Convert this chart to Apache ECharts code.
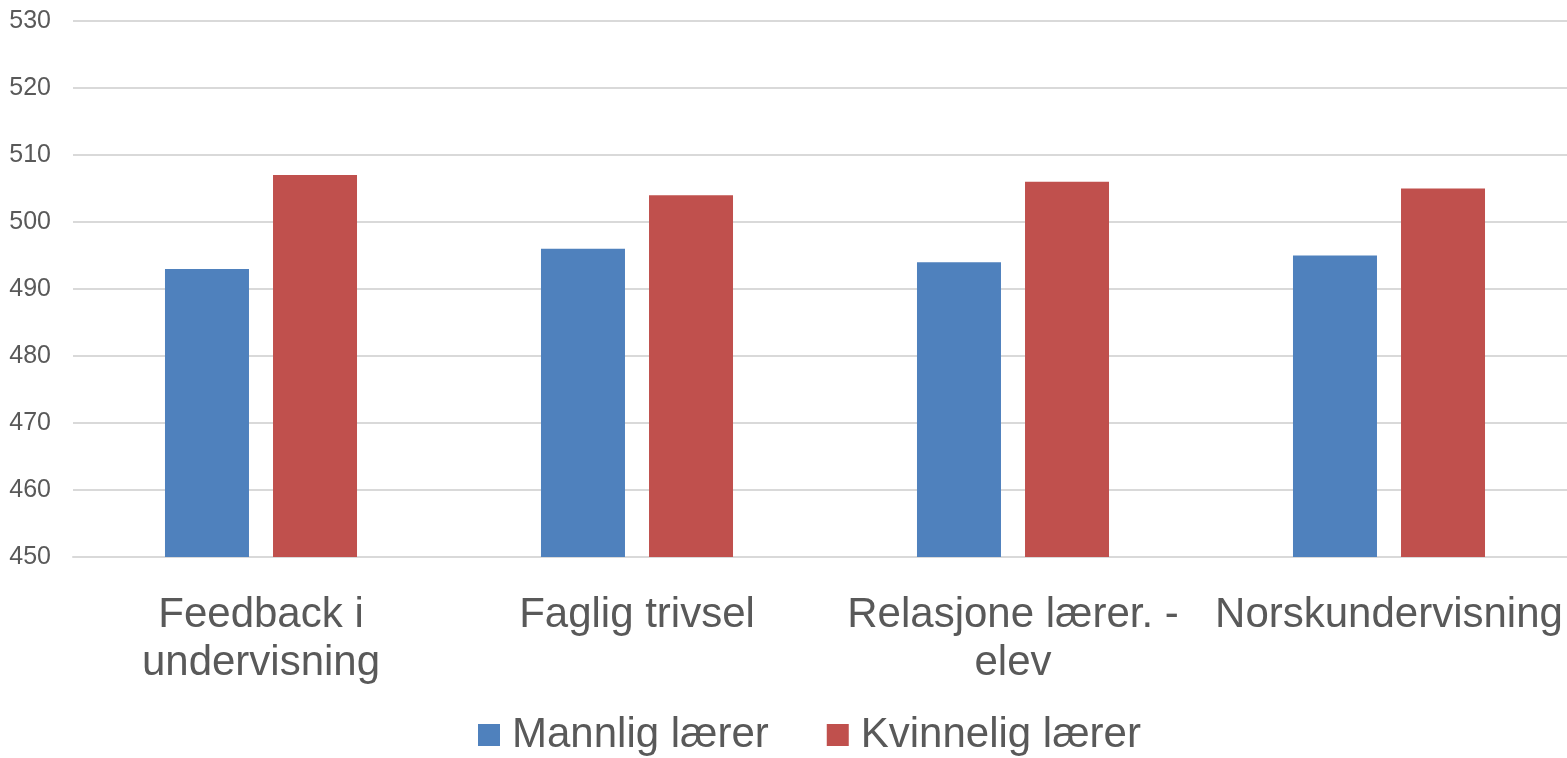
<!DOCTYPE html>
<html>
<head>
<meta charset="utf-8">
<script src="https://cdn.jsdelivr.net/npm/echarts@6/dist/echarts.min.js"></script>
<style>html,body{margin:0;padding:0;background:#fff;overflow:hidden;width:1567px;height:758px;}#c{width:1577px;height:758px;}</style>
</head>
<body>
<div id="c"></div>
<script>
var categories = ['Feedback i\nundervisning', 'Faglig trivsel', 'Relasjone lærer. -\nelev', 'Norskundervisning'];
var seriesNames = ['Mannlig lærer', 'Kvinnelig lærer'];
var mannlig = [493, 496, 494, 495];
var kvinnelig = [507, 504, 506, 505];
var yMin = 450, yMax = 530, yStep = 10;

var chart = echarts.init(document.getElementById('c'));
chart.setOption({
  animation: false,
  backgroundColor: '#fff',
  textStyle: { fontFamily: 'Liberation Sans, Arial, sans-serif' },
  grid: { left: 73, right: 0, top: 21, bottom: 201, containLabel: false },
  legend: {
    data: seriesNames,
    left: 478, top: 714,
    padding: 0,
    itemWidth: 22, itemHeight: 22, itemGap: 58,
    icon: 'rect',
    textStyle: { fontSize: 42, color: '#595959', fontFamily: 'Liberation Sans, Arial, sans-serif', padding: [0, 0, 0, 7] }
  },
  xAxis: {
    type: 'category',
    data: categories,
    axisLine: { show: true, lineStyle: { color: '#d9d9d9', width: 2 } },
    axisTick: { show: false },
    axisLabel: { fontSize: 42, color: '#595959', margin: 34, lineHeight: 48, interval: 0, fontFamily: 'Liberation Sans, Arial, sans-serif' }
  },
  yAxis: {
    type: 'value',
    min: yMin, max: yMax, interval: yStep,
    axisLine: { show: false },
    axisTick: { show: false },
    splitLine: { lineStyle: { color: '#d9d9d9', width: 2 } },
    axisLabel: { fontSize: 25, color: '#595959', margin: 22, fontFamily: 'Liberation Sans, Arial, sans-serif' }
  },
  series: [
    { name: seriesNames[0], type: 'bar', data: mannlig, barWidth: 84, barGap: '28.6%', itemStyle: { color: '#4F81BD' } },
    { name: seriesNames[1], type: 'bar', data: kvinnelig, barWidth: 84, barGap: '28.6%', itemStyle: { color: '#C0504D' } }
  ]
});
</script>
</body>
</html>
